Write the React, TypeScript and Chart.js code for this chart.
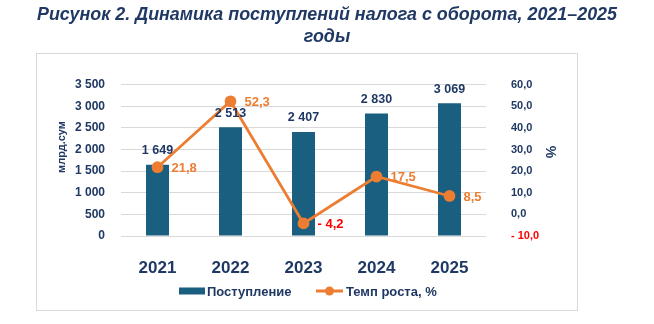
import React, { useEffect, useRef, useState } from "react";
import { Chart, registerables } from "chart.js";

Chart.register(...registerables);

const years = ["2021", "2022", "2023", "2024", "2025"];
const receipts = [1649, 2513, 2407, 2830, 3069];
const growth = [21.8, 52.3, -4.2, 17.5, 8.5];
const leftTicks = [0, 500, 1000, 1500, 2000, 2500, 3000, 3500];
const rightTicks = [-10, 0, 10, 20, 30, 40, 50, 60];
const titleLines = ["Рисунок 2. Динамика поступлений налога с оборота, 2021–2025", "годы"];

const NAVY = "#1F3864";
const BAR = "#1A5F80";
const ORANGE = "#ED7D31";
const RED = "#FF0000";
const FONT = "'Liberation Sans', Arial, sans-serif";
const TITLE_FONT = "italic bold 19px 'Liberation Sans', Arial, sans-serif";

const fmtThousands = (v: number) =>
  String(Math.round(v)).replace(/\B(?=(\d{3})+(?!\d))/g, " ");
const fmtPct = (v: number) => {
  const s = Math.abs(v).toFixed(1).replace(".", ",");
  return v < 0 ? "- " + s : s;
};

const overlay = {
  id: "overlay",
  afterDatasetsDraw(chart: any) {
    const ctx = chart.ctx;
    ctx.save();
    const barMeta = chart.getDatasetMeta(0);
    ctx.font = `bold 12.5px ${FONT}`;
    ctx.fillStyle = NAVY;
    ctx.textAlign = "center";
    ctx.textBaseline = "middle";
    barMeta.data.forEach((el: any, i: number) => {
      ctx.fillText(fmtThousands(receipts[i]), el.x, el.y - 14);
    });
    const lineMeta = chart.getDatasetMeta(1);
    ctx.font = `bold 13px ${FONT}`;
    ctx.textAlign = "left";
    lineMeta.data.forEach((el: any, i: number) => {
      ctx.fillStyle = growth[i] < 0 ? RED : ORANGE;
      ctx.fillText(fmtPct(growth[i]), el.x + 14, el.y + 1);
    });
    ctx.fillStyle = NAVY;
    ctx.font = `bold 11px ${FONT}`;
    ctx.textAlign = "center";
    ctx.save();
    ctx.translate(26, 94);
    ctx.rotate(-Math.PI / 2);
    ctx.fillText("млрд.сум", 0, 0);
    ctx.restore();
    ctx.save();
    ctx.font = `bold 14px ${FONT}`;
    ctx.translate(514, 99);
    ctx.rotate(Math.PI / 2);
    ctx.fillText("%", 0, 0);
    ctx.restore();
    const ly = 238;
    ctx.fillStyle = BAR;
    ctx.fillRect(143, ly - 3.5, 26, 7);
    ctx.font = `bold 13px ${FONT}`;
    ctx.fillStyle = NAVY;
    ctx.textAlign = "left";
    ctx.fillText("Поступление", 171, ly + 1);
    ctx.strokeStyle = ORANGE;
    ctx.lineWidth = 3;
    ctx.beginPath();
    ctx.moveTo(280, ly);
    ctx.lineTo(307, ly);
    ctx.stroke();
    ctx.fillStyle = ORANGE;
    ctx.beginPath();
    ctx.arc(293.5, ly, 4.5, 0, Math.PI * 2);
    ctx.fill();
    ctx.fillStyle = NAVY;
    ctx.fillText("Темп роста, %", 310, ly + 1);
    ctx.restore();
  },
};

export default function App() {
  const ref = useRef<HTMLCanvasElement>(null);
  const titleRef = useRef<HTMLCanvasElement>(null);

  useEffect(() => {
    const c = titleRef.current;
    if (!c) return;
    const ctx = c.getContext("2d")!;
    ctx.clearRect(0, 0, c.width, c.height);
    ctx.font = TITLE_FONT;
    ctx.fillStyle = NAVY;
    ctx.textBaseline = "middle";
    ctx.textAlign = "center";
    const w = ctx.measureText(titleLines[0]).width;
    const s = Math.min(1, 580 / w);
    const ys = [15, 37];
    titleLines.forEach((t, i) => {
      ctx.save();
      ctx.translate(327, ys[i]);
      ctx.scale(s, 1);
      ctx.fillText(t, 0, 0);
      ctx.restore();
    });
  }, []);

  useEffect(() => {
    if (!ref.current) return;
    const chart = new Chart(ref.current, {
      type: "bar",
      data: {
        labels: years,
        datasets: [
          {
            type: "bar",
            label: "Поступление",
            data: receipts,
            backgroundColor: BAR,
            barPercentage: 0.315,
            categoryPercentage: 1,
            yAxisID: "y",
            order: 2,
          },
          {
            type: "line",
            label: "Темп роста, %",
            data: growth,
            borderColor: ORANGE,
            backgroundColor: ORANGE,
            borderWidth: 2.75,
            pointRadius: 4.5,
            pointBackgroundColor: ORANGE,
            pointBorderColor: ORANGE,
            yAxisID: "y1",
            order: 1,
          } as any,
        ],
      },
      options: {
        animation: false,
        responsive: false,
        maintainAspectRatio: false,
        layout: { padding: { top: 16, left: 0, right: 0, bottom: 0 } },
        plugins: { legend: { display: false }, tooltip: { enabled: false } },
        scales: {
          x: {
            grid: { display: false },
            border: { display: false },
            ticks: {
              color: NAVY,
              font: { family: FONT, size: 17, weight: "bold" },
              padding: 14,
            },
            afterFit(scale: any) {
              scale.height = 75;
            },
          },
          y: {
            position: "left",
            min: 0,
            max: 3500,
            afterBuildTicks(scale: any) {
              scale.ticks = leftTicks.map((v) => ({ value: v }));
            },
            grid: { color: "#D9D9D9", drawTicks: false, lineWidth: 1 },
            border: { display: false },
            ticks: {
              color: NAVY,
              font: { family: FONT, size: 12, weight: "bold" },
              padding: 16,
              callback: (v: any) => fmtThousands(Number(v)),
            },
            afterFit(scale: any) {
              scale.width = 85;
            },
          },
          y1: {
            position: "right",
            min: -10,
            max: 60,
            afterBuildTicks(scale: any) {
              scale.ticks = rightTicks.map((v) => ({ value: v }));
            },
            grid: { display: false, drawTicks: false },
            border: { display: false },
            ticks: {
              color: (c: any) => (c.tick && c.tick.value < 0 ? RED : NAVY),
              font: { family: FONT, size: 11, weight: "bold" },
              padding: 25,
              callback: (v: any) => fmtPct(Number(v)),
            },
            afterFit(scale: any) {
              scale.width = 92;
            },
          },
        },
      },
      plugins: [overlay],
    });
    return () => chart.destroy();
  }, []);

  return (
    <div
      style={{
        position: "absolute",
        left: 0,
        top: 0,
        width: 654,
        height: 324,
        background: "#fff",
        overflow: "hidden",
      }}
    >
      <canvas
        ref={titleRef}
        width={654}
        height={52}
        style={{ position: "absolute", left: 0, top: 0, width: 654, height: 52 }}
      />
      <div
        style={{
          position: "absolute",
          left: 36,
          top: 53,
          width: 542,
          height: 258,
          border: "1px solid #D9D9D9",
          boxSizing: "border-box",
        }}
      />
      <canvas
        ref={ref}
        width={542}
        height={258}
        style={{ position: "absolute", left: 36, top: 53, width: 542, height: 258 }}
      />
    </div>
  );
}
